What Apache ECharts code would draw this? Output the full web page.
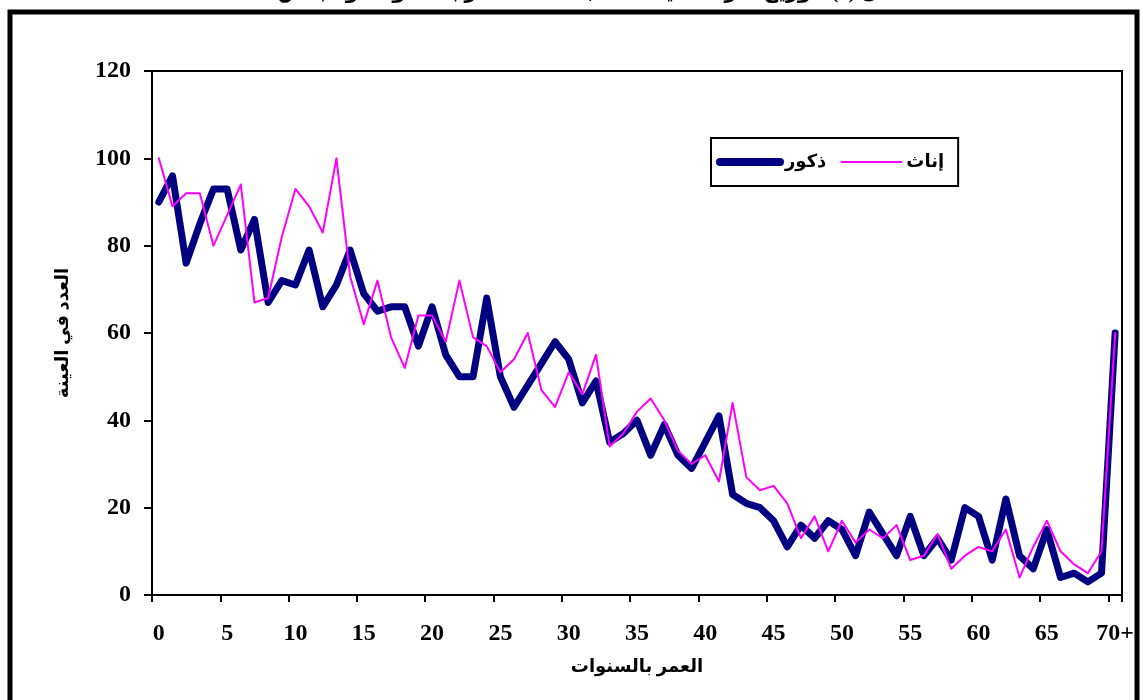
<!DOCTYPE html>
<html>
<head>
<meta charset="utf-8">
<script src="https://cdn.jsdelivr.net/npm/echarts@6/dist/echarts.min.js"></script>
<style>
html,body{margin:0;padding:0;background:#fff;}
#chart{width:1143px;height:700px;}
</style>
</head>
<body>
<div id="chart"></div>
<script>
var categories = ["0","1","2","3","4","5","6","7","8","9","10","11","12","13","14","15","16","17","18","19","20","21","22","23","24","25","26","27","28","29","30","31","32","33","34","35","36","37","38","39","40","41","42","43","44","45","46","47","48","49","50","51","52","53","54","55","56","57","58","59","60","61","62","63","64","65","66","67","68","69","70+"];
var males = [90,96,76,85,93,93,79,86,67,72,71,79,66,71,79,69,65,66,66,57,66,55,50,50,68,50,43,48,53,58,54,44,49,35,37,40,32,39,32,29,35,41,23,21,20,17,11,16,13,17,15,9,19,14,9,18,9,13,8,20,18,8,22,9,6,15,4,5,3,5,60];
var females = [100,89,92,92,80,87,94,67,68,82,93,89,83,100,73,62,72,59,52,64,64,58,72,59,57,51,54,60,47,43,51,46,55,34,37,42,45,40,33,30,32,26,44,27,24,25,21,13,18,10,17,12,15,13,16,8,9,14,6,9,11,10,15,4,11,17,10,7,5,10,60];
var seriesNames = ["ذكور","إناث"];
var xTitle = "العمر بالسنوات";
var yTitle = "العدد في العينة";
var topTitle = "شكل (1): توزيع أفراد العينة حسب فئات العمر بالسنوات والجنس";

var FONT = "'Liberation Serif', 'DejaVu Serif', 'DejaVu Sans', serif";
var chart = echarts.init(document.getElementById('chart'));
chart.setOption({
  animation: false,
  backgroundColor: '#fff',
  graphic: [
    {type:'rect', shape:{x:10, y:12, width:1127, height:720}, style:{fill:'none', stroke:'#000', lineWidth:5}, z:100},
    {type:'text', x:595, y:3, style:{text: topTitle, fontFamily: FONT, fontWeight:'bold', fontSize:21, fill:'#000', align:'center', verticalAlign:'bottom'}, z:100}
  ],
  grid: {left:152, right:21, top:71, bottom:105, show:true, borderColor:'#000', borderWidth:2, backgroundColor:'transparent'},
  legend: {
    left: 711, top: 138,
    orient: 'horizontal',
    backgroundColor: '#fff',
    borderColor: '#000', borderWidth: 2,
    padding: [15, 14, 15, 5],
    itemWidth: 60, itemHeight: 14, itemGap: 14,
    itemStyle: {opacity: 0},
    textStyle: {fontFamily: FONT, fontWeight:'bold', fontSize:18, color:'#000'},
    data: [
      {name: seriesNames[0], lineStyle:{width:8, cap:'round'}},
      {name: seriesNames[1], lineStyle:{width:2}}
    ]
  },
  xAxis: {
    type: 'category',
    data: categories,
    boundaryGap: true,
    name: xTitle,
    nameLocation: 'middle',
    nameGap: 63,
    nameTextStyle: {fontFamily: FONT, fontWeight:'bold', fontSize:18, color:'#000'},
    axisLine: {lineStyle:{color:'#000', width:2}},
    axisTick: {show:true, interval:4, length:7, lineStyle:{color:'#000', width:2}},
    axisLabel: {interval:4, margin:27, fontFamily: FONT, fontWeight:'bold', fontSize:24, color:'#000'},
    splitLine: {show:false}
  },
  yAxis: {
    type: 'value',
    min: 0, max: 120, interval: 20,
    name: yTitle,
    nameLocation: 'middle',
    nameGap: 80,
    nameTextStyle: {fontFamily: FONT, fontWeight:'bold', fontSize:18, color:'#000'},
    axisLine: {show:true, lineStyle:{color:'#000', width:2}},
    axisTick: {show:true, length:8, lineStyle:{color:'#000', width:2}},
    axisLabel: {margin:21, fontFamily: FONT, fontWeight:'bold', fontSize:24, color:'#000'},
    splitLine: {show:false}
  },
  series: [
    {name: seriesNames[0], type:'line', data: males, symbol:'none', color:'#000080',
     lineStyle:{color:'#000080', width:7, cap:'round', join:'round'}, z:2},
    {name: seriesNames[1], type:'line', data: females, symbol:'none', color:'#FF00FF',
     lineStyle:{color:'#FF00FF', width:2, cap:'round', join:'round'}, z:3}
  ]
});
</script>
</body>
</html>
